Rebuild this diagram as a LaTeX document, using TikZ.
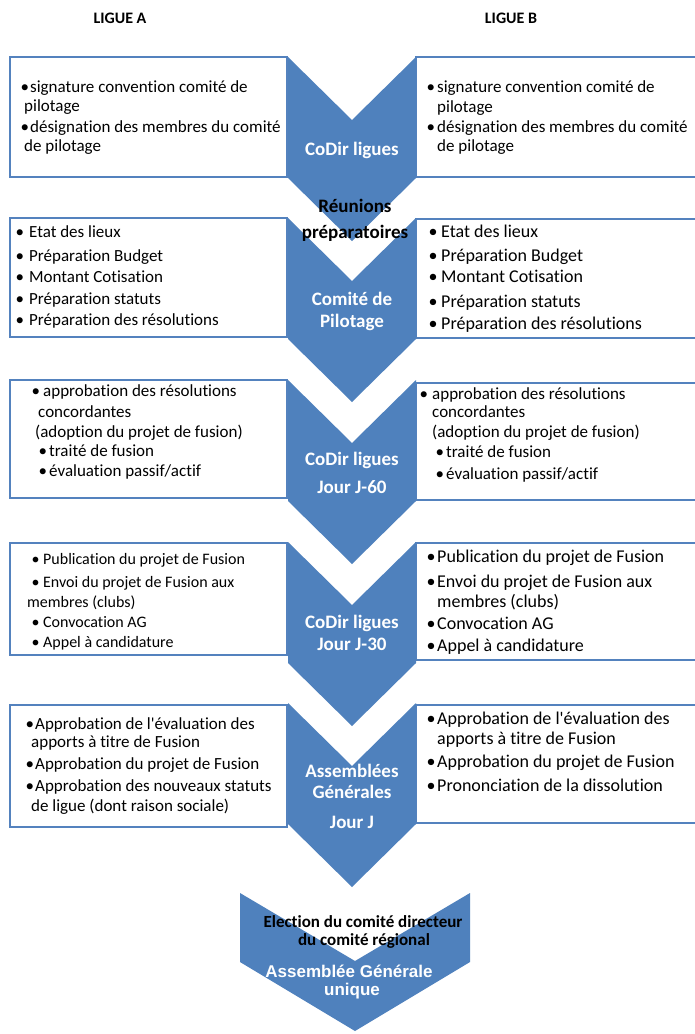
\documentclass[tikz,border=0pt]{standalone}
\usepackage{fontspec}
\setmainfont{Carlito}[Ligatures={TeX,NoCommon}]
\newfontfamily\arialfont{Liberation Sans}
\definecolor{chevblue}{RGB}{79,129,189}
\definecolor{boxblue}{RGB}{84,130,190}
\newcommand{\puce}[1]{\makebox[#1pt][l]{\hspace{-1.5pt}•}}
\tikzset{
  cadre/.style={draw=boxblue,line width=1.2pt,fill=white},
  fleche/.style={fill=chevblue},
  ligne/.style={anchor=base west,inner sep=0pt,font=\fontsize{17}{20}\selectfont},
  ligneP/.style={ligne,font=\fontsize{16}{19}\selectfont},
  ligneG/.style={ligne,font=\fontsize{18}{21}\selectfont},
  titre/.style={anchor=base,inner sep=0pt,font=\bfseries\fontsize{16}{19}\selectfont},
  etape/.style={anchor=base,inner sep=0pt,text=white,font=\bfseries\fontsize{19}{22}\selectfont},
  etapeN/.style={etape,text=black},
  finale/.style={anchor=base,inner sep=0pt,text=white,font=\arialfont\bfseries\fontsize{17}{19}\selectfont}
}
\begin{document}
\begin{tikzpicture}[x=1pt,y=-1pt]
\useasboundingbox (0,0) rectangle (695,1034);
\clip (0,0) rectangle (695,1034);
\fill[white] (0,0) rectangle (695,1034);

\node[titre] (ligA) at (120,23) {LIGUE A};
\node[titre] (ligB) at (511,23) {LIGUE B};

\draw[cadre] (10,57) rectangle (287,177);% Row 1
\draw[cadre] (416,57) rectangle (705,177);
\draw[cadre] (10,218) rectangle (287,337);% Row 2
\draw[cadre] (416,219) rectangle (705,338);
\draw[cadre] (10,380) rectangle (287,498);% Row 3
\draw[cadre] (416,383) rectangle (705,500);
\draw[cadre] (10,543) rectangle (287,655);% Row 4
\draw[cadre] (416,543) rectangle (705,660);
\draw[cadre] (10,705) rectangle (287,827);% Row 5
\draw[cadre] (416,705) rectangle (705,823);

\foreach \t in {57,218,380,542,703}{
  \fill[fleche] (288,\t) -- (352,\t+63) -- (416,\t) -- (416,\t+121) -- (352,\t+184) -- (288,\t+121) -- cycle;
}
\fill[fleche] (240,893) -- (355,961) -- (470,893) -- (470,962) -- (355,1031) -- (240,962) -- cycle;% Last chevron

\node[etape] (c1) at (352,155) {CoDir ligues};
\node[etapeN] (r1) at (355,212) {Réunions};
\node[etapeN] (r2) at (355,238) {préparatoires};
\node[etape] (c2a) at (352,305) {Comité de};
\node[etape] (c2b) at (352,327) {Pilotage};
\node[etape] (c3a) at (352,465) {CoDir ligues};
\node[etape] (c3b) at (352,493) {Jour J-60};
\node[etape] (c4a) at (352,628) {CoDir ligues};
\node[etape] (c4b) at (352,650) {Jour J-30};
\node[etape] (c5a) at (352,777) {Assemblées};
\node[etape] (c5b) at (352,798) {Générales};
\node[etape] (c5c) at (352,828) {Jour J};
\node[etapeN,font=\bfseries\fontsize{17}{19}\selectfont] (e1) at (363,927) {Election du comité directeur};
\node[etapeN,font=\bfseries\fontsize{17}{19}\selectfont] (e2) at (364,945) {du comité régional};
\node[finale] (f1) at (349,977) {Assemblée Générale};
\node[finale] (f2) at (352,995) {unique};

% Row 1
\node[ligne] (a11) at (22,92) {\puce{8}signature convention comité de};
\node[ligne] (a12) at (24,111) {pilotage};
\node[ligne] (a13) at (22,132) {\puce{8}désignation des membres du comité};
\node[ligne] (a14) at (24,151) {de pilotage};
\node[ligne] (b11) at (428,92) {\puce{9}signature convention comité de};
\node[ligne] (b12) at (437,112) {pilotage};
\node[ligne] (b13) at (428,132) {\puce{9}désignation des membres du comité};
\node[ligne] (b14) at (437,151) {de pilotage};
% Row 2
\node[ligne] (a21) at (17,237) {\puce{12}Etat des lieux};
\node[ligne] (a22) at (17,261) {\puce{12}Préparation Budget};
\node[ligne] (a23) at (17,282) {\puce{12}Montant Cotisation};
\node[ligne] (a24) at (17,304) {\puce{12}Préparation statuts};
\node[ligne] (a25) at (17,325) {\puce{12}Préparation des résolutions};
\node[ligneG] (b21) at (430,237) {\puce{11}Etat des lieux};
\node[ligneG] (b22) at (430,261) {\puce{11}Préparation Budget};
\node[ligneG] (b23) at (430,282) {\puce{11}Montant Cotisation};
\node[ligneG] (b24) at (430,307) {\puce{11}Préparation statuts};
\node[ligneG] (b25) at (430,329) {\puce{11}Préparation des résolutions};
% Row 3
\node[ligne] (a31) at (33,396) {\puce{10}approbation des résolutions};
\node[ligne] (a32) at (38,417) {concordantes};
\node[ligne] (a33) at (35,437) {(adoption du projet de fusion)};
\node[ligne] (a34) at (40,456) {\puce{9}traité de fusion};
\node[ligne] (a35) at (40,476) {\puce{9}évaluation passif/actif};
\node[ligne] (b31) at (421,399) {\puce{11}approbation des résolutions};
\node[ligne] (b32) at (432,417) {concordantes};
\node[ligne] (b33) at (432,437) {(adoption du projet de fusion)};
\node[ligne] (b34) at (437,457) {\puce{9}traité de fusion};
\node[ligne] (b35) at (437,479) {\puce{9}évaluation passif/actif};
% Row 4
\node[ligneP] (a41) at (33,564) {\puce{10}Publication du projet de Fusion};
\node[ligneP] (a42) at (33,587) {\puce{10}Envoi du projet de Fusion aux};
\node[ligneP] (a43) at (27,607) {membres (clubs)};
\node[ligneP] (a44) at (33,627) {\puce{10}Convocation AG};
\node[ligneP] (a45) at (33,647) {\puce{10}Appel à candidature};
\node[ligneG] (b41) at (428,562) {\puce{9}Publication du projet de Fusion};
\node[ligneG] (b42) at (428,587) {\puce{9}Envoi du projet de Fusion aux};
\node[ligneG] (b43) at (437,607) {membres (clubs)};
\node[ligneG] (b44) at (428,629) {\puce{9}Convocation AG};
\node[ligneG] (b45) at (428,651) {\puce{9}Appel à candidature};
% Row 5
\node[ligne] (a51) at (27,729) {\puce{8}Approbation de l\textquotesingle évaluation des};
\node[ligne] (a52) at (31,747) {apports à titre de Fusion};
\node[ligne] (a53) at (27,769) {\puce{8}Approbation du projet de Fusion};
\node[ligne] (a54) at (27,791) {\puce{8}Approbation des nouveaux statuts};
\node[ligne] (a55) at (31,811) {de ligue (dont raison sociale)};
\node[ligneG] (b51) at (428,724) {\puce{9}Approbation de l\textquotesingle évaluation des};
\node[ligneG] (b52) at (437,744) {apports à titre de Fusion};
\node[ligneG] (b53) at (428,767) {\puce{9}Approbation du projet de Fusion};
\node[ligneG] (b54) at (428,791) {\puce{9}Prononciation de la dissolution};
\end{tikzpicture}
\end{document}
